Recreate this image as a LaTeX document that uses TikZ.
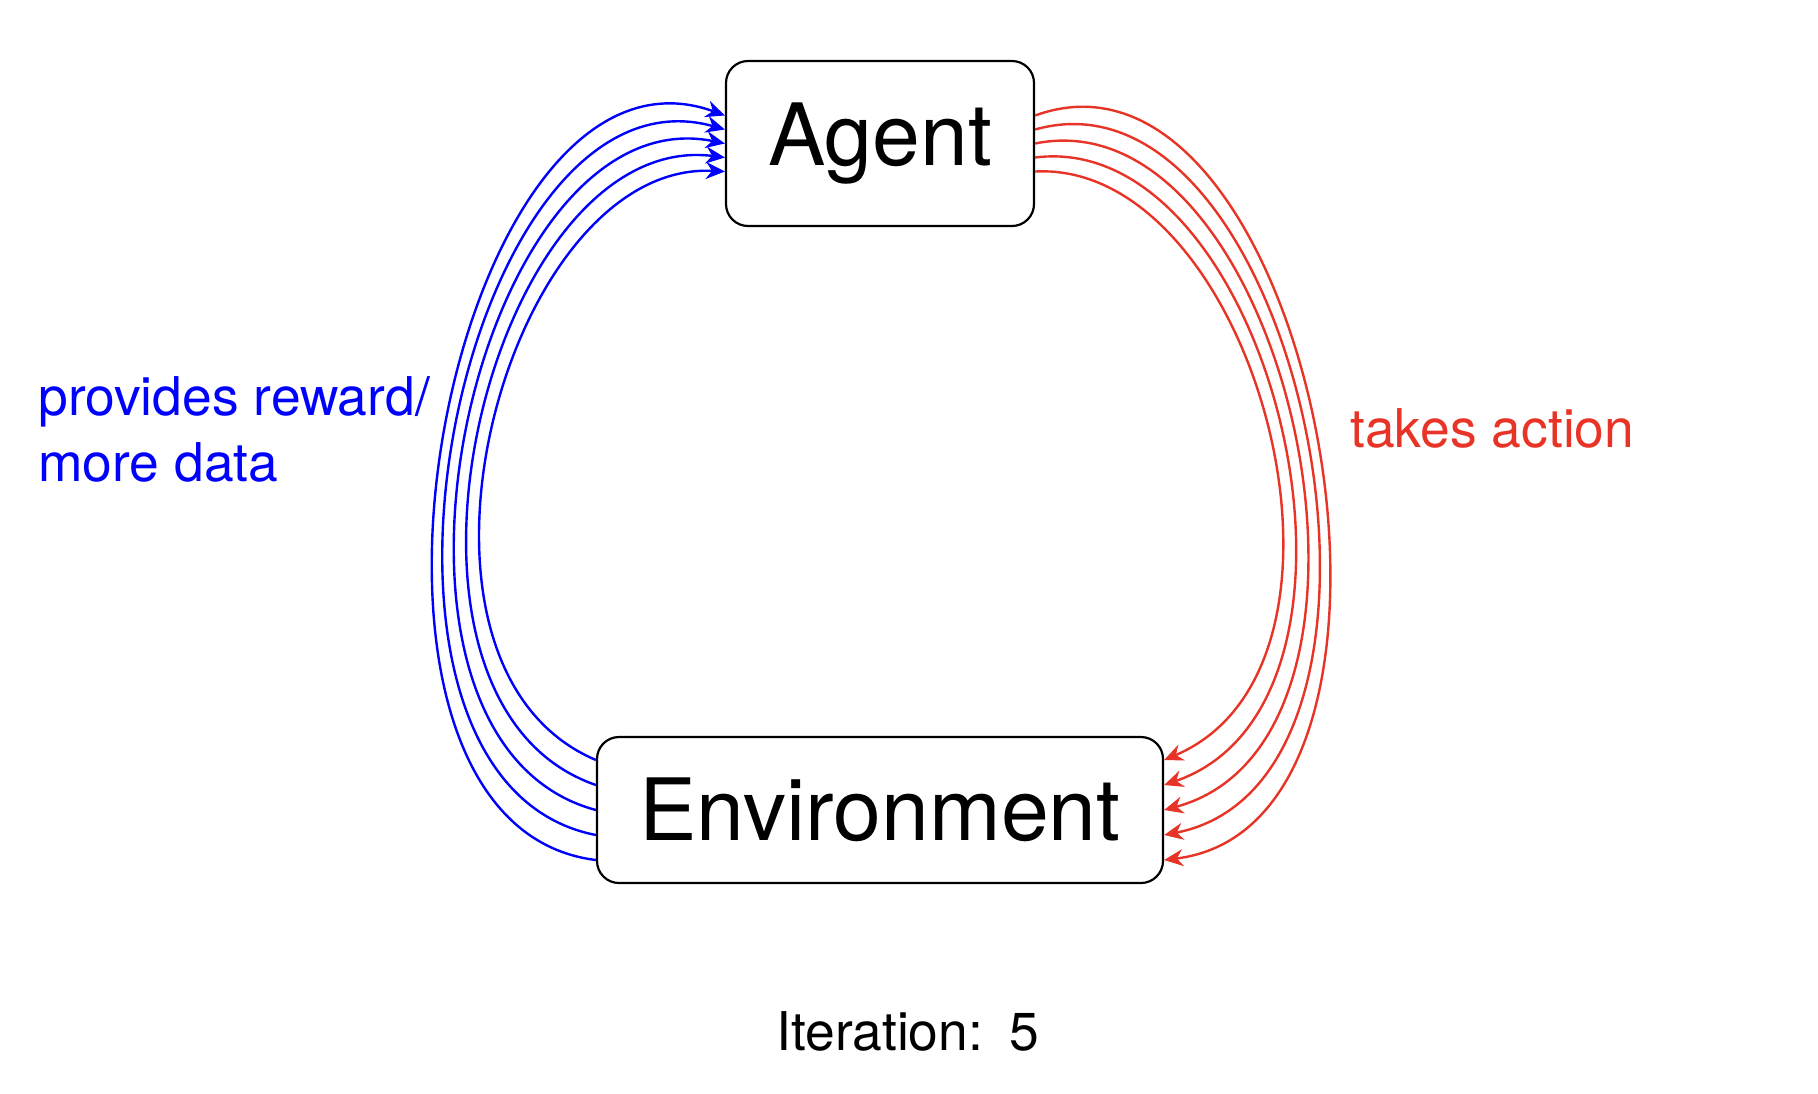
\documentclass[tikz,border=0pt]{standalone}
\usepackage{fontspec}
\setmainfont{TeX Gyre Heros}
\usetikzlibrary{arrows.meta,calc}
\definecolor{actred}{RGB}{232,52,38}
\definecolor{rewblue}{RGB}{0,0,255}
\begin{document}
\begin{tikzpicture}[x=0.5pt,y=-0.5pt,
  box/.style={draw=black,line width=1.1pt,rounded corners=11pt,inner sep=0pt,font=\fontsize{43}{50}\selectfont},
  blueline/.style={draw=rewblue,line width=1.2pt,-{Stealth[length=9.5pt,width=8.5pt]}},
  redline/.style={draw=actred,line width=1.2pt,-{Stealth[length=9.5pt,width=8.5pt]}},
  lbl/.style={inner sep=0pt,anchor=base west,font=\fontsize{26.7}{33}\selectfont}]
\useasboundingbox (0,0) rectangle (1818,1093);
\node[box,minimum width=154pt,minimum height=82.5pt] (agent) at (880,143.5) {Agent};
\node[box,minimum width=283pt,minimum height=73pt] (env) at (880,810) {Environment};
\foreach \i in {0,...,4}{
  \pgfmathsetmacro\ts{23-4*\i}
  \pgfmathsetmacro\te{3+4.25*\i}
  \pgfmathsetmacro\aa{245+13.75*\i}
  \pgfmathsetmacro\bb{220+19*\i}
  \pgfmathsetmacro\ys{-50+25*\i}
  \pgfmathsetmacro\ye{28-14*\i}
  \draw[blueline] ($(env.west)+(0,\ys)$) .. controls +({-\aa*cos(\ts)},{-\aa*sin(\ts)}) and +({-\bb*cos(\te)},{-\bb*sin(\te)}) .. ($(agent.west)+(0,\ye)$);
  \draw[redline] ($(agent.east)+(0,\ye)$) .. controls +({\bb*cos(\te)},{-\bb*sin(\te)}) and +({\aa*cos(\ts)},{-\aa*sin(\ts)}) .. ($(env.east)+(0,\ys)$);
}
\node[lbl,text=rewblue,align=left] (reward) at (38,481) {provides reward/\\more data};
\node[lbl,text=actred] (action) at (1350,447) {takes action};
\node[lbl] (iter) at (776,1050) {Iteration:\hspace{0.5em}5};
\end{tikzpicture}
\end{document}
